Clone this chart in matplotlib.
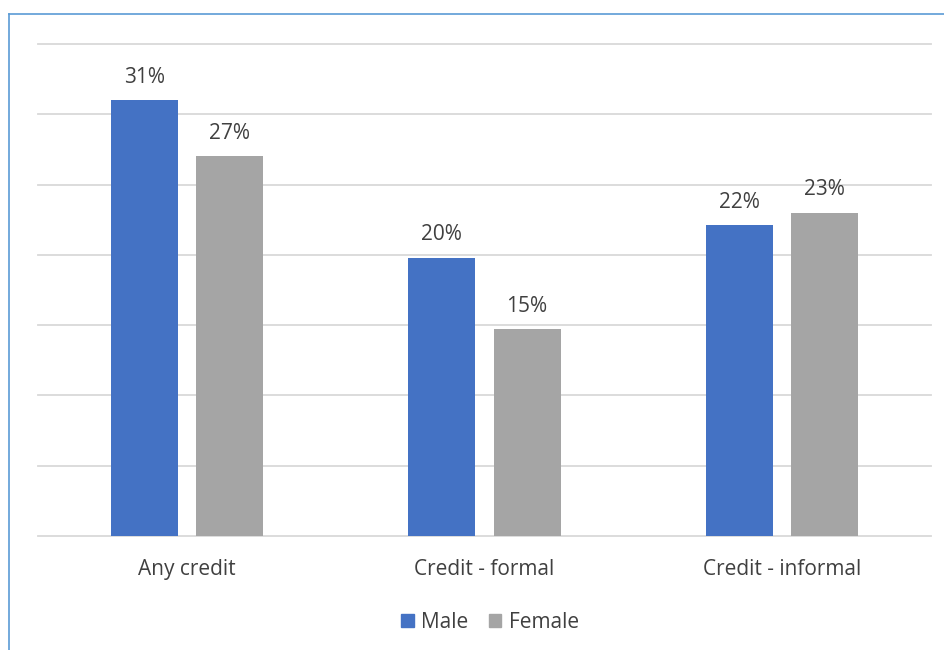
import matplotlib

matplotlib.use("Agg")
import matplotlib.pyplot as plt
import numpy as np
from matplotlib.lines import Line2D
from matplotlib.patches import Rectangle

CATEGORIES = ["Any credit", "Credit - formal", "Credit - informal"]
MALE = [31.0, 19.8, 22.1]
FEMALE = [27.0, 14.7, 23.0]
MALE_LABELS = ["31%", "20%", "22%"]
FEMALE_LABELS = ["27%", "15%", "23%"]
SERIES = ["Male", "Female"]

C_MALE = "#4472C4"
C_FEMALE = "#A5A5A5"
GRID = "#D9D9D9"
INK = "#404040"
BORDER = "#5B9BD5"
FS = 15

plt.rcParams["font.family"] = ["Open Sans", "DejaVu Sans"]

W, H = 945, 650
fig = plt.figure(figsize=(W / 100, H / 100), dpi=100)
ax = fig.add_axes([38 / W, 1 - 536 / H, (931 - 38) / W, (536 - 44) / H])

x = np.arange(len(CATEGORIES))
bw = 0.225
off = 0.143
b1 = ax.bar(x - off, MALE, bw, color=C_MALE, zorder=2)
b2 = ax.bar(x + off, FEMALE, bw, color=C_FEMALE, zorder=2)

for bars, labs in ((b1, MALE_LABELS), (b2, FEMALE_LABELS)):
    for r, lab in zip(bars, labs):
        ax.annotate(lab, (r.get_x() + r.get_width() / 2, r.get_height()),
                    xytext=(0, 9), textcoords="offset points",
                    ha="center", va="bottom", fontsize=FS, color=INK)

ax.set_xlim(-0.5, 2.5)
ax.set_ylim(0, 35)
for v in np.arange(0, 36, 5):
    ax.axhline(v, color=GRID, lw=1.3, zorder=0, clip_on=False)
ax.tick_params(axis="y", left=False, labelleft=False)
ax.tick_params(axis="x", bottom=False, labelsize=FS, labelcolor=INK, pad=13)
ax.set_xticks(x)
ax.set_xticklabels(CATEGORIES)
for sp in ax.spines.values():
    sp.set_visible(False)

handles = [Rectangle((0, 0), 1, 1, color=C_MALE), Rectangle((0, 0), 1, 1, color=C_FEMALE)]
fig.legend(handles, SERIES, loc="center", bbox_to_anchor=(490 / W, 1 - 622 / H),
           ncol=2, frameon=False, fontsize=FS, labelcolor=INK,
           handlelength=0.6, handleheight=0.6, handletextpad=0.35, columnspacing=1.0)

# outer frame (left and top edges visible)
fig.add_artist(Line2D([9 / W, 9 / W], [0, 1 - 14 / H], color=BORDER, lw=1.2))
fig.add_artist(Line2D([9 / W, 1], [1 - 14 / H, 1 - 14 / H], color=BORDER, lw=1.2))

fig.savefig("out.png", dpi=100)
